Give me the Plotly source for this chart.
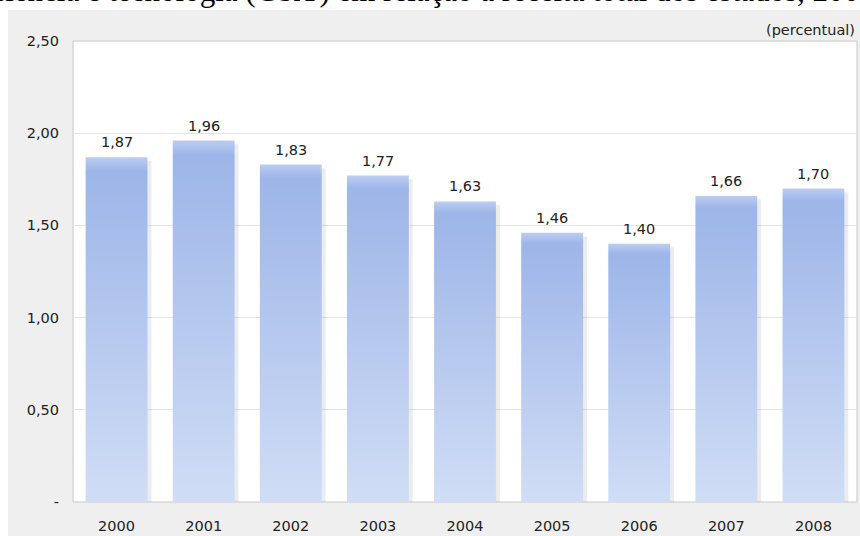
import plotly.graph_objects as go

# ---- data ----
years = ["2000", "2001", "2002", "2003", "2004", "2005", "2006", "2007", "2008"]
values = [1.87, 1.96, 1.83, 1.77, 1.63, 1.46, 1.40, 1.66, 1.70]
value_labels = ["1,87", "1,96", "1,83", "1,77", "1,63", "1,46", "1,40", "1,66", "1,70"]
ytick_vals = [0, 0.5, 1.0, 1.5, 2.0, 2.5]
ytick_text = ["-", "0,50", "1,00", "1,50", "2,00", "2,50"]
title_text = ("Dispêndios dos governos estaduais em ciência e tecnologia (C&T) "
              "em relação à receita total dos estados, 2000-2008")
unit_text = "(percentual)"

# ---- style ----
BAR_W = 0.71
TICK_FONT = dict(family="DejaVu Sans, Verdana, sans-serif", size=14.5, color="#222222")
GRAD = [[0.0, "#d0ddf5"], [0.96, "#9db5e8"], [1.0, "#bccdf1"]]

fig = go.Figure()
positions = list(range(len(years)))

for i, v in zip(positions, values):
    x0, x1 = i - BAR_W / 2, i + BAR_W / 2
    # soft shadow
    fig.add_trace(go.Scatter(
        x=[x0 + 0.03, x1 + 0.045, x1 + 0.045, x0 + 0.03, x0 + 0.03],
        y=[-0.02, -0.02, v - 0.02, v - 0.02, -0.02],
        fill="toself", fillcolor="rgba(90,95,120,0.12)",
        line=dict(width=0), mode="lines", hoverinfo="skip", showlegend=False))
    # bar with vertical gradient
    fig.add_trace(go.Scatter(
        x=[x0, x1, x1, x0, x0], y=[0, 0, v, v, 0],
        fill="toself",
        fillgradient=dict(type="vertical", colorscale=GRAD, start=0, stop=v),
        line=dict(width=0), mode="lines", name=years[i],
        hovertemplate=years[i] + ": " + value_labels[i] + "<extra></extra>",
        showlegend=False))

annotations = []
for i, v, lab in zip(positions, values, value_labels):
    annotations.append(dict(x=i, y=v, xref="x", yref="y", text=lab, showarrow=False,
                            yanchor="middle", yshift=15, font=TICK_FONT))

annotations.append(dict(x=0.9994, y=1.024, xref="paper", yref="paper", text=unit_text,
                        showarrow=False, xanchor="right", yanchor="middle", font=TICK_FONT))
annotations.append(dict(x=1.117, y=1.1096, xref="paper", yref="paper", text=title_text,
                        showarrow=False, xanchor="right", yanchor="middle",
                        font=dict(family="Liberation Serif, Times New Roman, serif",
                                  size=31, color="#000000")))

shapes = [
    dict(type="rect", xref="paper", yref="paper", x0=-0.0829, x1=1.01, y0=-0.08, y1=1.0672,
         fillcolor="#efefef", line=dict(width=0), layer="below"),
    dict(type="rect", xref="paper", yref="paper", x0=0, x1=1, y0=0, y1=1,
         fillcolor="#ffffff", line=dict(color="#c8c8c8", width=1), layer="below"),
]

fig.update_layout(
    width=860, height=536,
    margin=dict(l=73, r=3, t=41, b=34),
    paper_bgcolor="#ffffff",
    plot_bgcolor="rgba(0,0,0,0)",
    showlegend=False,
    shapes=shapes,
    annotations=annotations,
    xaxis=dict(range=[-0.5, len(years) - 0.5], tickvals=positions, ticktext=years,
               showgrid=False, zeroline=False, showline=False, ticks="",
               tickfont=TICK_FONT, ticklabelstandoff=13, fixedrange=True),
    yaxis=dict(range=[0, 2.5], tickvals=ytick_vals, ticktext=ytick_text,
               showgrid=True, gridcolor="#e4e4e4", gridwidth=1, zeroline=False,
               showline=False, ticks="", tickfont=TICK_FONT, ticklabelstandoff=13,
               fixedrange=True),
)

fig.write_html("out.html", config={"displayModeBar": False},
               post_script="document.body.style.margin='0px';")
